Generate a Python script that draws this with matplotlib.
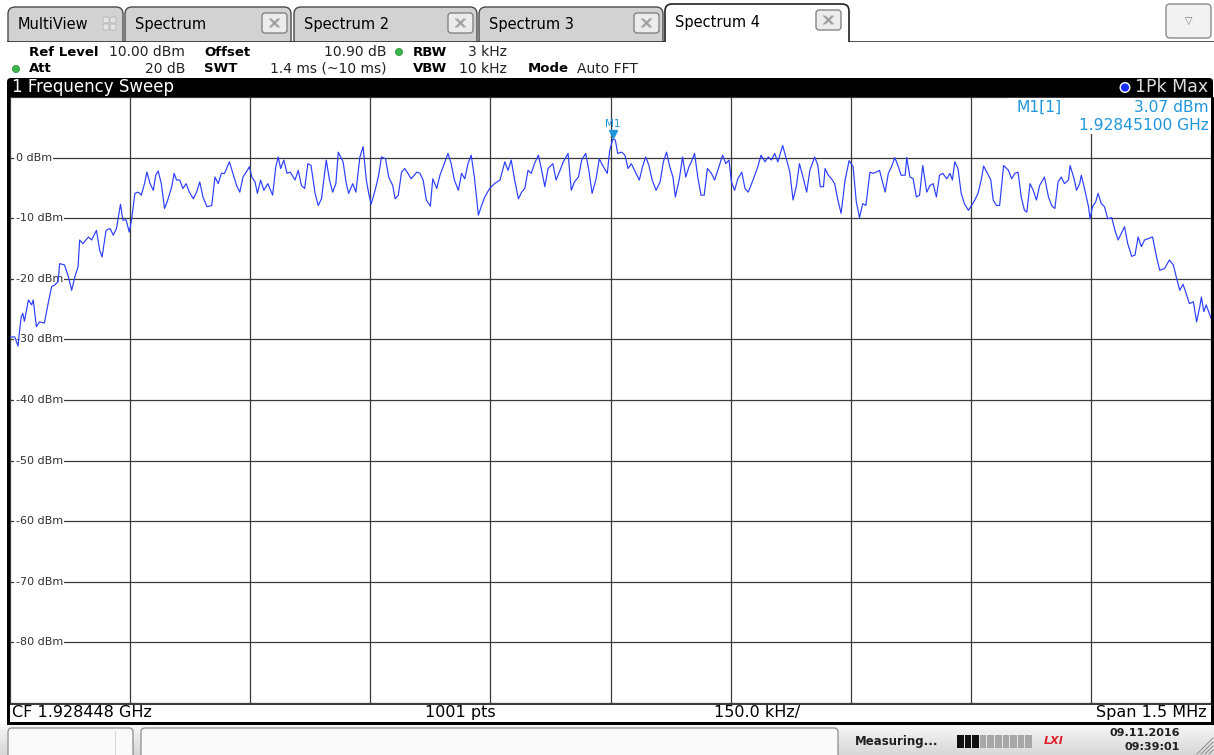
import matplotlib
matplotlib.use("Agg")
import matplotlib.pyplot as plt
import matplotlib.transforms as mtransforms
from matplotlib.patches import FancyBboxPatch, Circle
import numpy as np

# --- trace: offset from CF (kHz) and level (dBm)
freq_offset_khz = [
    -750, -744, -740, -738, -736, -734, -732, -727, -723, -721,
    -717, -713, -707, -702, -698, -694, -690, -688, -682, -677,
    -673, -669, -665, -663, -659, -652, -648, -642, -638, -635,
    -630, -625, -621, -617, -612, -609, -605, -601, -598, -594,
    -590, -586, -582, -579, -575, -571, -568, -565, -561, -557,
    -553, -548, -545, -542, -538, -534, -530, -526, -521, -517,
    -513, -509, -504, -498, -494, -490, -486, -482, -476, -471,
    -467, -463, -459, -455, -451, -448, -444, -441, -437, -433,
    -428, -422, -418, -415, -412, -408, -404, -400, -394, -390,
    -386, -382, -378, -374, -369, -365, -361, -355, -351, -347,
    -343, -340, -334, -330, -327, -322, -318, -313, -309, -305,
    -302, -299, -294, -290, -286, -281, -277, -272, -269, -265,
    -261, -257, -253, -249, -242,
    -238, -234, -230, -225, -222, -217, -213, -209, -203, -199,
    -195, -190, -186, -182, -178, -174, -170, -165, -161, -157,
    -151, -145, -138, -132, -128, -124, -120, -115, -111, -107,
    -103, -99, -95, -90, -86, -82, -78, -72, -68, -63,
    -59, -53, -49, -45, -40, -36, -31, -27, -23, -18,
    -14, -9, -4, -1, 3, 6, 9, 14, 18, 22,
    26, 30, 36, 40, 44, 48, 52, 57, 62, 66,
    70, 74, 78, 81, 86, 90, 94, 98, 101, 105,
    109, 113, 117, 121, 126, 130, 134, 140, 144, 148,
    151, 155, 159, 164, 168, 172, 178, 184, 188, 193,
    197, 201, 205, 209, 215, 220, 224, 228, 232, 236,
    241, 245, 249, 255,
    259, 262, 266, 268, 272, 276, 280, 284, 288, 293,
    298, 303, 307, 311, 315, 319, 324, 328, 332, 336,
    343, 347, 351, 355, 359, 363, 368, 370, 374, 378,
    382, 386, 390, 395, 399, 403, 407, 411, 415, 420,
    424, 427, 430, 434, 438, 442, 447, 451, 455, 459,
    463, 466, 470, 475, 478, 482, 486, 491, 497, 501,
    505, 509, 513, 517, 520, 524, 528, 532, 536, 542,
    547, 551, 555, 559, 563, 567, 572, 574, 579, 582,
    586, 588, 592, 597, 599, 602, 606, 609, 613, 617,
    621, 626, 630, 634, 638, 642, 646, 651, 655, 659,
    663, 667, 671, 677, 682, 686, 692, 698, 703, 707,
    711, 715, 719, 723, 728, 732, 736, 738, 741, 744,
    750,
]
level_dbm = [
    -29.6, -29.6, -31.1, -28.5, -26.3, -25.7, -27.0, -23.5, -24.3, -23.5,
    -27.9, -27.1, -27.3, -23.8, -21.3, -21.0, -20.5, -17.5, -17.7, -19.7,
    -21.9, -19.7, -18.0, -13.6, -14.2, -13.1, -13.6, -12.0, -15.3, -16.4,
    -12.0, -11.7, -12.8, -11.7, -7.7, -10.3, -10.3, -12.3, -10.1, -5.9,
    -5.7, -6.2, -4.3, -2.4, -4.3, -5.4, -2.9, -2.2, -4.3, -8.4,
    -7.0, -4.8, -2.6, -3.7, -3.7, -5.1, -4.3, -5.7, -6.8, -5.7,
    -4.0, -6.5, -8.1, -7.9, -3.2, -4.3, -2.6, -2.6, -0.7, -2.9,
    -4.6, -5.7, -3.2, -2.4, -1.5, -3.2, -4.0, -5.9, -3.7, -5.4,
    -4.3, -6.2, -1.5, 0.1, -1.8, -0.4, -2.6, -2.4, -3.7, -2.1,
    -4.6, -5.1, -1.0, -1.3, -5.9, -7.9, -6.8, -0.4, -3.7, -5.7,
    -4.3, 0.9, -0.7, -4.3, -5.9, -4.3, -5.7, 0.1, 1.8, -3.7,
    -5.9, -7.7, -5.4, -3.2, 0.1, -0.2, -3.2, -4.6, -6.8, -6.2,
    -2.4, -1.8, -2.6, -3.5, -2.4,
    -2.6, -3.7, -7.0, -8.0, -3.5, -5.1, -2.9, -1.5, 0.7, -1.0,
    -3.7, -5.4, -2.6, -3.5, -1.0, 0.4, -3.2, -9.5, -7.9, -6.5,
    -5.1, -4.3, -3.7, -0.7, -2.1, -0.4, -3.5, -6.8, -5.7, -5.1,
    -2.1, -2.6, -1.0, 0.4, -2.1, -4.8, -1.8, -1.0, -3.7, -2.1,
    -0.7, 0.7, -5.4, -4.0, -3.2, -0.4, 0.7, -2.1, -5.9, -3.5,
    -0.2, -1.5, -2.6, 1.2, 3.07, 2.9, 0.7, 0.9, 0.4, -1.8,
    -1.0, -2.1, -3.7, -1.5, 0.1, -1.3, -3.7, -5.4, -4.0, -0.7,
    0.9, -1.5, -3.2, -6.5, -3.5, 0.1, -3.2, -1.5, -0.7, 0.7,
    -3.2, -6.2, -6.2, -1.8, -2.6, -3.7, -2.1, 0.4, -1.0, -0.4,
    -4.0, -5.4, -3.5, -2.4, -5.1, -5.7, -3.7, -1.5, 0.4, -0.7,
    0.1, -0.4, 0.7, -0.7, 2.0, -0.4, -2.4, -7.0, -4.8, -1.0,
    -3.5, -5.7, -2.1, 0.1,
    -1.3, -4.8, -4.8, -1.8, -2.9, -3.5, -4.3, -7.0, -9.2, -3.7,
    -0.5, -1.5, -7.3, -9.9, -7.6, -7.9, -2.4, -2.6, -2.4, -2.1,
    -5.7, -2.6, -1.5, 0.0, -1.3, -2.9, -2.9, 0.0, -3.2, -3.5,
    -6.5, -6.2, -1.3, -5.7, -4.6, -4.3, -6.5, -2.9, -2.6, -3.5,
    -2.6, -3.7, -0.7, -1.8, -5.9, -7.6, -8.7, -7.9, -7.0, -5.9,
    -3.7, -1.4, -2.4, -3.7, -7.0, -7.9, -7.9, -1.3, -2.1, -3.5,
    -2.6, -2.4, -6.5, -8.7, -9.0, -4.3, -5.4, -7.0, -4.6, -3.2,
    -6.5, -7.9, -8.4, -4.0, -3.2, -4.3, -3.7, -1.3, -3.5, -5.4,
    -4.3, -2.9, -5.1, -8.1, -10.1, -8.1, -7.3, -5.9, -7.6, -8.1,
    -10.1, -9.9, -12.0, -13.6, -12.5, -11.4, -14.2, -16.3, -16.1, -13.1,
    -14.7, -13.6, -13.4, -13.1, -16.4, -18.6, -18.3, -16.9, -17.7, -19.9,
    -21.9, -20.9, -22.4, -24.1, -23.8, -27.1, -24.6, -23.0, -25.4, -24.3,
    -26.5,
]

center_ghz = 1.928448
span_khz = 1500.0
ref_level_dbm = 10.0
range_db = 100.0
sweep_points = 1001
marker_khz = 3.0
marker_dbm = 3.07

grid_levels = [0, -10, -20, -30, -40, -50, -60, -70, -80]
tab_names = ["MultiView", "Spectrum", "Spectrum 2", "Spectrum 3", "Spectrum 4"]

W, H = 1214, 755
FONT = "DejaVu Sans"
TRACE = "#2b3eff"
MARK = "#1e96dc"

fig = plt.figure(figsize=(W / 100, H / 100), dpi=100)
fig.patch.set_facecolor("white")

# --- screen chrome, drawn in pixel coordinates ------------------------------
ui = fig.add_axes([0, 0, 1, 1])
ui.set_zorder(0)
ui.axis("off")
ui.set_autoscale_on(False)
ui.set_xlim(0, W)
ui.set_ylim(H, 0)


def box(x0, y0, x1, y1, fc, ec="none", lw=1.0, r=0.0, z=1, target=None):
    a = target or ui
    style = f"round,pad=0,rounding_size={r}" if r else "square,pad=0"
    p = FancyBboxPatch((x0, y0), x1 - x0, y1 - y0, boxstyle=style, fc=fc, ec=ec,
                       lw=lw, zorder=z, transform=ui.transData, mutation_aspect=1)
    a.add_patch(p)
    return p


def txt(x, y, s, size=10, ha="left", color="black", weight="normal", z=6, target=None, **kw):
    a = target or ui
    return a.text(x, y, s, fontsize=size, ha=ha, va="center", color=color,
                  fontweight=weight, family=FONT, zorder=z, transform=ui.transData, **kw)


def close_button(x0, y0):
    box(x0, y0, x0 + 25, y0 + 20, fc="#ececec", ec="#7a7a7a", lw=0.9, r=3, z=3)
    cx, cy = x0 + 12.5, y0 + 10
    for dx in (-0.8, 0.8):
        ui.plot([cx - 4 + dx, cx + 4 + dx], [cy - 4, cy + 4], color="#9a9a9a", lw=0.8, zorder=4)
        ui.plot([cx - 4 + dx, cx + 4 + dx], [cy + 4, cy - 4], color="#9a9a9a", lw=0.8, zorder=4)


# tabs
tab_spans = [(8, 123), (125, 291), (294, 477), (479, 663), (665, 849)]
for i, (name, (x0, x1)) in enumerate(zip(tab_names, tab_spans)):
    active = i == len(tab_names) - 1
    if active:
        box(x0, 4, x1, 50, fc="white", ec="#202020", lw=1.2, r=7, z=3)
        txt(x0 + 10, 22, name, size=10.5, z=6)
        close_button(x1 - 33, 10)
    else:
        box(x0, 7, x1, 50, fc="#d2d2d2", ec="#4a4a4a", lw=1.0, r=7, z=1)
        txt(x0 + 10, 24.5, name, size=10.5, z=6)
        if i == 0:
            for gx in (103, 110):
                for gy in (17, 24):
                    box(gx, gy, gx + 6, gy + 6, fc="#e4e4e4", ec="#b4b4b4", lw=0.6, r=1.5, z=4)
        else:
            close_button(x1 - 29, 13)
ui.plot([8, W], [41.5, 41.5], color="#202020", lw=1.1, zorder=2)
box(0, 42.3, W, 78, fc="white", z=5)

# dropdown button
box(1166, 4, 1211, 38, fc="#f2f2f2", ec="#8a8a8a", lw=1.0, r=4, z=3)
txt(1189, 21, "\u25bd", size=7, ha="center", color="#7a7a7a")

# settings header
GREEN = "#3cb54a"
R1, R2 = 52, 69
for (cx, cy) in [(399, R1), (16, R2)]:
    ui.add_patch(Circle((cx, cy), 3.6, fc=GREEN, ec="#2a8a35", lw=0.5, zorder=6))
txt(29, R1, "Ref Level", weight="bold", size=9.5)
txt(185, R1, "10.00 dBm", ha="right", size=10, color="#222")
txt(204, R1, "Offset", weight="bold", size=9.5)
txt(387, R1, "10.90 dB", ha="right", size=10, color="#222")
txt(413, R1, "RBW", weight="bold", size=9.5)
txt(507, R1, "3 kHz", ha="right", size=10, color="#222")
txt(29, R2, "Att", weight="bold", size=9.5)
txt(185, R2, "20 dB", ha="right", size=10, color="#222")
txt(204, R2, "SWT", weight="bold", size=9.5)
txt(387, R2, "1.4 ms (~10 ms)", ha="right", size=10, color="#222")
txt(413, R2, "VBW", weight="bold", size=9.5)
txt(507, R2, "10 kHz", ha="right", size=10, color="#222")
txt(528, R2, "Mode", weight="bold", size=9.5)
txt(577, R2, "Auto FFT", size=10, color="#222")

# window title bar
box(7, 78, 1213, 100, fc="black", r=4, z=5)
txt(12, 87.5, "1 Frequency Sweep", size=12, color="white")
ui.add_patch(Circle((1125, 87.5), 4.8, fc="#1a2cff", ec="white", lw=1.0, zorder=7))
txt(1208, 87.5, "1Pk Max", size=12.5, ha="right", color="#dcdcdc")

# frame around the diagram and the footer
box(7, 97, 10, 724, fc="black", z=5)
box(1211, 97, 1213.5, 724, fc="black", z=5)
ui.plot([10, 1211], [703.5, 703.5], color="black", lw=1.1, zorder=5)
box(7, 721.5, 1213.5, 724.5, fc="black", z=5)
txt(12, 712.5, f"CF {center_ghz:.6f} GHz", size=11.5)
txt(460, 712.5, f"{sweep_points} pts", size=11.5, ha="center")
txt(757, 712.5, f"{span_khz / 10:.1f} kHz/", size=11.5, ha="center")
txt(1207, 712.5, f"Span {span_khz / 1000:g} MHz", size=11.5, ha="right")

# status bar
grad = np.linspace(0.97, 0.84, 32)[:, None]
ui.imshow(grad, extent=[0, W, H, 724.5], cmap="gray", vmin=0, vmax=1,
          aspect="auto", origin="upper", zorder=0.5, interpolation="bilinear")
box(8, 728, 133, 760, fc="#fafafa", ec="#8c8c8c", lw=0.9, r=4, z=2)
ui.plot([115, 115], [731, 755], color="#d8d8d8", lw=0.8, zorder=3)
box(141, 728, 838, 760, fc="#fafafa", ec="#8c8c8c", lw=0.9, r=4, z=2)
txt(855, 741, "Measuring...", size=8.5, weight="bold", color="#202020")
for k in range(10):
    sx = 957 + k * 7.6
    box(sx, 735, sx + 6.6, 748, fc="#111111" if k < 3 else "#a8a8a8", z=3)
txt(1054, 741, "LXI", size=8, ha="center", weight="bold", color="#e0202a", style="italic")
txt(1180, 733.5, "09.11.2016", size=8, ha="right", weight="bold", color="#202020")
txt(1180, 747.5, "09:39:01", size=8, ha="right", weight="bold", color="#202020")
for k in range(5):
    o = 4 * k
    ui.plot([1197 + o, 1213], [754, 738 + o], color="#8c8c8c", lw=0.7, zorder=3)

# --- diagram ----------------------------------------------------------------
ax = fig.add_axes([10 / W, 1 - 703 / H, 1201 / W, 606 / H])
ax.set_zorder(1)
ax.set_xlim(-span_khz / 2, span_khz / 2)
ax.set_ylim(ref_level_dbm - range_db, ref_level_dbm)
ax.set_xticks(np.linspace(-span_khz / 2, span_khz / 2, 11))
ax.set_yticks(np.arange(ref_level_dbm - range_db, ref_level_dbm + 1, 10))
ax.set_axisbelow(True)
ax.grid(True, color="#3a3a3a", lw=0.9)
ax.tick_params(length=0, labelbottom=False, labelleft=False)
for s in ax.spines.values():
    s.set_visible(False)

for v in grid_levels:
    ax.text(-span_khz / 2 + 7, v, f"{v} dBm", ha="left", va="center", fontsize=8,
            family=FONT, color="#303030", zorder=3,
            bbox=dict(fc="white", ec="none", pad=0.8))

ax.plot(freq_offset_khz, level_dbm, color=TRACE, lw=0.85, zorder=4)

# marker M1
up_tri = mtransforms.offset_copy(ax.transData, fig=fig, x=0, y=5, units="dots")
up_lbl = mtransforms.offset_copy(ax.transData, fig=fig, x=0, y=15, units="dots")
ax.plot([marker_khz], [marker_dbm], marker="v", ms=6, color=MARK, mec=MARK,
        transform=up_tri, zorder=5)
ax.text(marker_khz, marker_dbm, "M1", transform=up_lbl, ha="center", va="center",
        fontsize=7.5, family=FONT, color=MARK, zorder=5)

box(1008, 98, 1211, 134, fc="white", z=3, target=ax)
marker_ghz = center_ghz + marker_khz / 1e6
txt(1017, 107, "M1[1]", size=11.2, color=MARK, target=ax)
txt(1209, 107, f"{marker_dbm:.2f} dBm", size=11.2, ha="right", color=MARK, target=ax)
txt(1209, 125, f"{marker_ghz:.8f} GHz", size=11.2, ha="right", color=MARK, target=ax)

fig.savefig("out.png", dpi=100)
plt.close(fig)
